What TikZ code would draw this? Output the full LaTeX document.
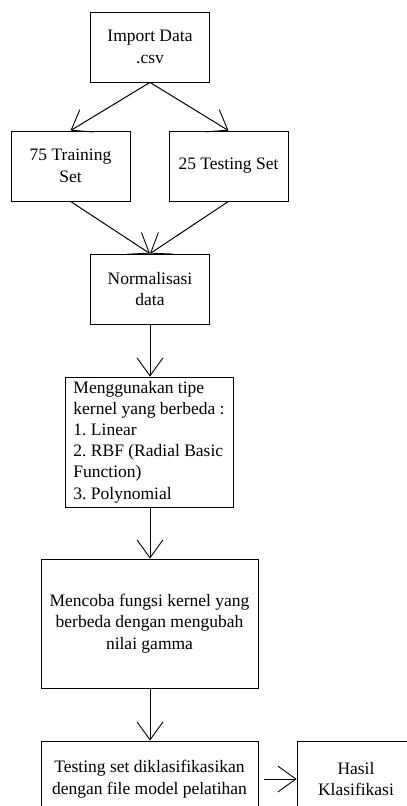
\documentclass[tikz,border=0pt]{standalone}
\usepackage{fontspec}
\setmainfont{Liberation Serif}
\usetikzlibrary{arrows.meta}

\begin{document}
\frenchspacing
\begin{tikzpicture}[x=1pt, y=-1pt,
  box/.style={draw, line width=0.8pt, align=center, inner sep=3pt, font=\fontsize{17.5}{21.5}\selectfont},
  flow/.style={line width=1pt, -{Straight Barb[length=18pt, width=26pt, line width=0.9pt]}}]
  \useasboundingbox (0,0) rectangle (407,806);
  \clip (0,0) rectangle (407,806);

  % Boxes
  \node[box, minimum width=119pt, minimum height=70pt] (import) at (150,47) {Import Data\\.csv};
  \node[box, minimum width=119pt, minimum height=70pt] (train) at (70.5,166) {75 Training\\Set};
  \node[box, minimum width=119pt, minimum height=70pt] (test) at (228.5,166) {25 Testing Set};
  \node[box, minimum width=119pt, minimum height=70pt] (norm) at (150,289) {Normalisasi\\data};
  \node[box, align=left, minimum width=168pt, minimum height=130pt,
    font=\fontsize{17.5}{21.2}\selectfont] (kernel) at (149,442)
    {Menggunakan tipe\\kernel yang berbeda :\\1. Linear\\2. RBF (Radial Basic\\Function)\\3. Polynomial};
  \node[box, minimum width=217pt, minimum height=129pt] (gamma) at (149.5,623.5)
    {Mencoba fungsi kernel yang\\berbeda dengan mengubah\\nilai gamma};
  \node[box, minimum width=217pt, minimum height=76pt] (klasif) at (149.5,779)
    {Testing set diklasifikasikan\\dengan file model pelatihan};
  \node[box, minimum width=118pt, minimum height=76pt] (hasil) at (356,779) {Hasil\\Klasifikasi};

  % Arrows
  \draw[flow] (import.south) -- (train.north);
  \draw[flow] (import.south) -- (test.north);
  \draw[flow] (train.south) -- (norm.north);
  \draw[flow] (test.south) -- (norm.north);
  \draw[flow] (norm.south) -- (norm.south |- kernel.north);
  \draw[flow] (norm.south |- kernel.south) -- (norm.south |- gamma.north);
  \draw[flow] (norm.south |- gamma.south) -- (norm.south |- klasif.north);
  \draw[flow, shorten <=6pt] (klasif.east) -- (hasil.west);
\end{tikzpicture}
\end{document}
